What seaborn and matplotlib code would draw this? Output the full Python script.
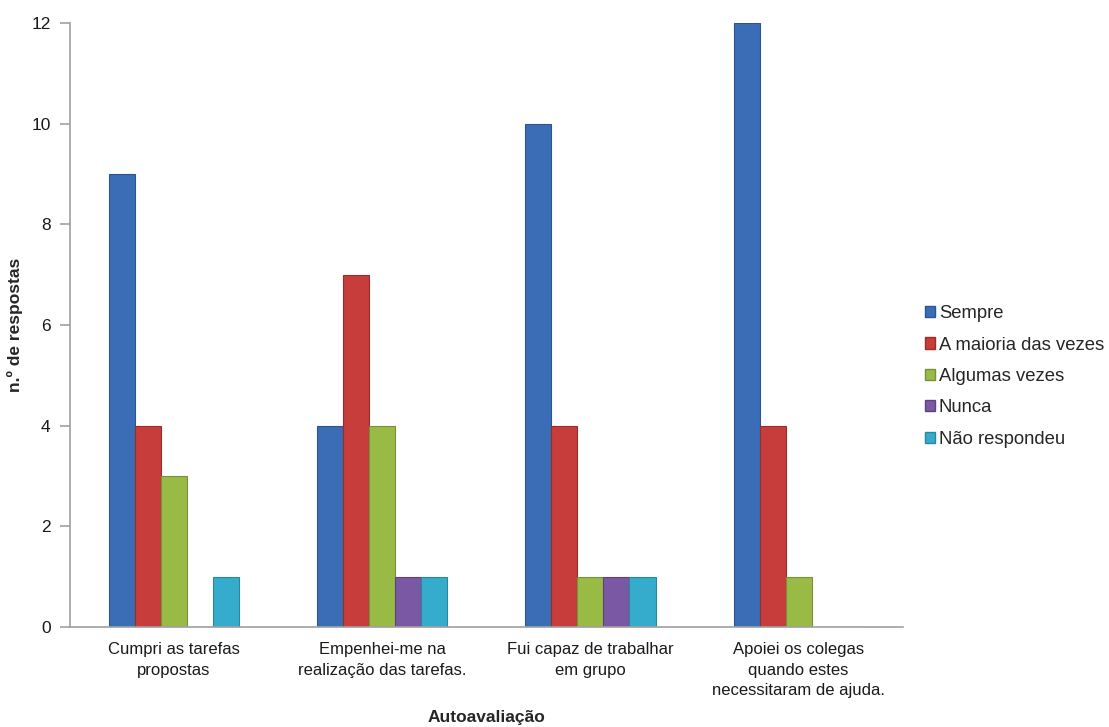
import matplotlib
matplotlib.use("Agg")
import matplotlib.pyplot as plt
import seaborn as sns
import pandas as pd

categories = ["Cumpri as tarefas\npropostas",
              "Empenhei-me na\nrealização das tarefas.",
              "Fui capaz de trabalhar\nem grupo",
              "Apoiei os colegas\nquando estes\nnecessitaram de ajuda."]
series = ["Sempre", "A maioria das vezes", "Algumas vezes", "Nunca", "Não respondeu"]
sempre = [9, 4, 10, 12]
maioria = [4, 7, 4, 4]
algumas = [3, 4, 1, 1]
nunca = [0, 1, 1, 0]
nao_resp = [1, 1, 1, 0]
colors = ["#3A6DB5", "#C63D3C", "#99BB45", "#7A58A3", "#35ACCB"]
edge_colors = ["#2C5490", "#9A2D2C", "#76913A", "#5C4380", "#2A86A0"]

rows = []
for s, vals in zip(series, [sempre, maioria, algumas, nunca, nao_resp]):
    for c, v in zip(categories, vals):
        rows.append({"cat": c, "serie": s, "val": v})
df = pd.DataFrame(rows)

sns.set_theme(style="white")
plt.rcParams["font.family"] = ["Liberation Sans", "DejaVu Sans"]

fig = plt.figure(figsize=(11.09, 7.27), dpi=100)
ax = fig.add_axes([0.0631, 0.1376, 0.7509, 0.8304])

sns.barplot(data=df, x="cat", y="val", hue="serie", order=categories,
            hue_order=series, palette=colors, width=0.625, ax=ax,
            saturation=1, legend=True)

for cont, ec in zip(ax.containers, edge_colors):
    for p in cont.patches:
        p.set_edgecolor(ec)
        p.set_linewidth(0.8)

ax.set_ylim(0, 12)
ax.set_xlim(-0.5, 3.5)
ax.set_yticks(range(0, 13, 2))
ax.tick_params(axis="y", length=7, width=1.2, color="#A0A0A0", labelsize=12.5,
               left=True, pad=7)
ax.tick_params(axis="x", length=0, labelsize=12, pad=11)
for lbl in ax.get_yticklabels():
    lbl.set_color("#1a1a1a")
for lbl in ax.get_xticklabels():
    lbl.set_color("#1a1a1a")
    lbl.set_linespacing(1.45)
for side in ["top", "right"]:
    ax.spines[side].set_visible(False)
for side in ["left", "bottom"]:
    ax.spines[side].set_color("#A0A0A0")
    ax.spines[side].set_linewidth(1.2)

ax.set_xlabel("Autoavaliação", fontsize=12.5, fontweight="bold")
ax.xaxis.set_label_coords(0.5, -0.137)
ax.set_ylabel("n.º de respostas", fontsize=12.5, fontweight="bold")
ax.yaxis.set_label_coords(-0.056, 0.5)

leg = ax.legend(loc="center left", bbox_to_anchor=(1.018, 0.415), frameon=False,
                fontsize=13.3, handlelength=0.55, handleheight=0.55,
                handletextpad=0.2, labelspacing=0.78, borderaxespad=0)
for h, ec in zip(leg.legend_handles, edge_colors):
    h.set_edgecolor(ec)

fig.savefig("out.png", dpi=100)
